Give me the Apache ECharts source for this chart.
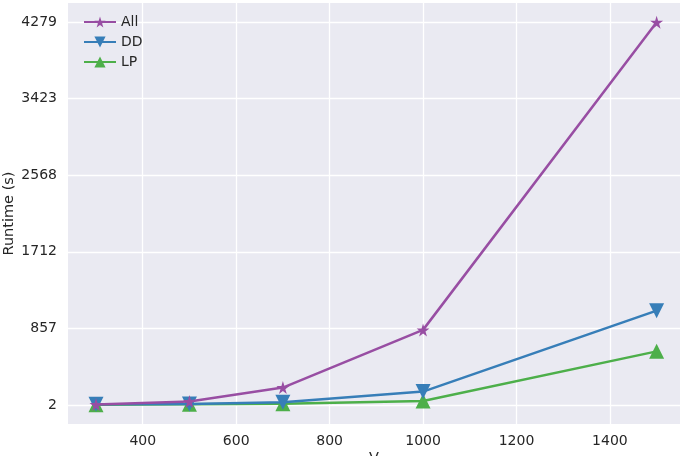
<!DOCTYPE html>
<html>
<head>
<meta charset="utf-8">
<script src="https://cdn.jsdelivr.net/npm/echarts@6/dist/echarts.min.js"></script>
<style>
  html, body { margin: 0; padding: 0; background: #fff; }
  #chart { width: 680px; height: 456px; }
</style>
</head>
<body>
<div id="chart"></div>
<script>
var xValues = [300, 500, 700, 1000, 1500];
var allRuntime = [5, 40, 195, 840, 4279];
var ddRuntime = [10, 12, 32, 150, 1055];
var lpRuntime = [2, 8, 15, 45, 600];
var xTicks = [400, 600, 800, 1000, 1200, 1400];
var yTicks = [2, 857, 1712, 2568, 3423, 4279];

var starPath = 'path://M50,0 L61,35 L98,35 L68,57 L79,91 L50,70 L21,91 L32,57 L2,35 L39,35 Z';
var textColor = '#262626';
var font = 'DejaVu Sans';

function pairs(ys) {
  return xValues.map(function (x, i) { return [x, ys[i]]; });
}
function plain(v) { return String(Math.round(v)); }

var chart = echarts.init(document.getElementById('chart'));
var option = {
  backgroundColor: '#ffffff',
  animation: false,
  textStyle: { fontFamily: font },
  grid: {
    left: 68,
    right: 0,
    top: 3,
    bottom: 32,
    outerBoundsMode: 'none',
    containLabel: false,
    show: true,
    backgroundColor: '#eaeaf2',
    borderWidth: 0
  },
  legend: {
    orient: 'vertical',
    left: 78,
    top: 10,
    itemWidth: 32,
    itemHeight: 14,
    itemGap: 6,
    textStyle: { color: textColor, fontSize: 14, fontFamily: font },
    data: ['All', 'DD', 'LP']
  },
  xAxis: {
    type: 'value',
    min: 240,
    max: 1550,
    name: 'V',
    nameLocation: 'middle',
    nameGap: 27,
    nameMoveOverlap: false,
    nameTextStyle: { color: textColor, fontSize: 14.5, fontFamily: font },
    axisLine: { show: false },
    axisTick: { show: false, customValues: xTicks },
    axisLabel: { customValues: xTicks, formatter: plain, color: textColor, fontSize: 14, margin: 10, fontFamily: font },
    splitLine: { show: true, customValues: xTicks, lineStyle: { color: '#ffffff', width: 1.3 } }
  },
  yAxis: {
    type: 'value',
    min: -211.85,
    max: 4492.85,
    name: 'Runtime (s)',
    nameLocation: 'middle',
    nameGap: 51,
    nameMoveOverlap: false,
    nameTextStyle: { color: textColor, fontSize: 14.5, fontFamily: font },
    axisLine: { show: false },
    axisTick: { show: false, customValues: yTicks },
    axisLabel: { customValues: yTicks, formatter: plain, color: textColor, fontSize: 14, margin: 11, fontFamily: font },
    splitLine: { show: true, customValues: yTicks, lineStyle: { color: '#ffffff', width: 1.3 } }
  },
  series: [
    {
      name: 'All',
      type: 'line',
      data: pairs(allRuntime),
      symbol: starPath,
      symbolSize: 13,
      showAllSymbol: true,
      color: '#984ea3',
      lineStyle: { width: 2.5 },
      z: 4
    },
    {
      name: 'DD',
      type: 'line',
      data: pairs(ddRuntime),
      symbol: 'triangle',
      symbolRotate: 180,
      symbolSize: 15,
      color: '#377eb8',
      lineStyle: { width: 2.5 },
      z: 3
    },
    {
      name: 'LP',
      type: 'line',
      data: pairs(lpRuntime),
      symbol: 'triangle',
      symbolSize: 15,
      color: '#4daf4a',
      lineStyle: { width: 2.5 },
      z: 2
    }
  ]
};
chart.setOption(option);
</script>
</body>
</html>
